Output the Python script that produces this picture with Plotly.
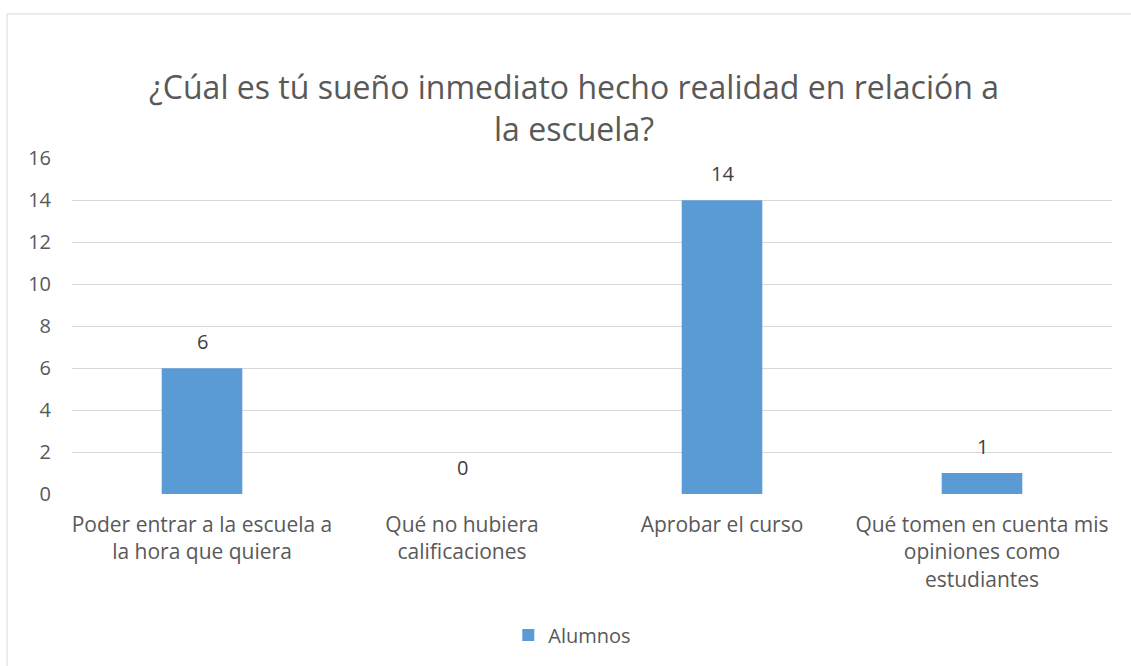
import plotly.graph_objects as go

categorias = [
    "Poder entrar a la escuela a<br>la hora que quiera",
    "Qué no hubiera<br>calificaciones",
    "Aprobar el curso",
    "Qué tomen en cuenta mis<br>opiniones como<br>estudiantes",
]
alumnos = [6, 0, 14, 1]
y_ticks = [0, 2, 4, 6, 8, 10, 12, 14, 16]

font_family = "Open Sans, Noto Sans, sans-serif"
gris = "#595959"

fig = go.Figure()
fig.add_trace(go.Bar(
    x=categorias, y=alumnos, name="Alumnos",
    marker=dict(color="#5B9BD5", line=dict(width=0)),
    cliponaxis=False,
))

# etiquetas de datos encima de cada barra
for c, v in zip(categorias, alumnos):
    fig.add_annotation(x=c, y=v, text=str(v), showarrow=False,
                       yanchor="bottom", yshift=11,
                       font=dict(size=20, color="#404040", family=font_family))

fig.update_layout(
    width=1131, height=666,
    margin=dict(l=72, r=19, t=158, b=172),
    paper_bgcolor="white", plot_bgcolor="white",
    bargap=0.69,
    font=dict(family=font_family, color=gris, size=20),
    showlegend=True,
    legend=dict(orientation="h", xref="container", yref="container",
                x=0.506, xanchor="center", y=1 - 635 / 666, yanchor="middle",
                font=dict(size=20, color=gris)),
    title=dict(
        text="¿Cúal es tú sueño inmediato hecho realidad en relación a<br>la escuela?",
        x=0.5075, xanchor="center", xref="container",
        y=1 - 99 / 666, yanchor="middle", yref="container",
        font=dict(size=32, color=gris, family=font_family),
    ),
)
fig.update_xaxes(showline=False, ticks="", tickfont=dict(size=21, color=gris),
                 ticklabelstandoff=16)
fig.update_yaxes(range=[0, 16.02], tickvals=y_ticks, showgrid=True, gridcolor="#D9D9D9",
                 gridwidth=1, zeroline=False, showline=False, ticks="",
                 tickfont=dict(size=20, color=gris), ticklabelstandoff=20)

fig.add_shape(type="rect", xref="paper", yref="paper",
              x0=-0.0625, x1=1.05, y0=1.4286, y1=-0.6,
              line=dict(color="#D9D9D9", width=1), fillcolor="rgba(0,0,0,0)")

fig.write_html("out.html", config={"displayModeBar": False},
               post_script="document.body.style.margin='0';")
